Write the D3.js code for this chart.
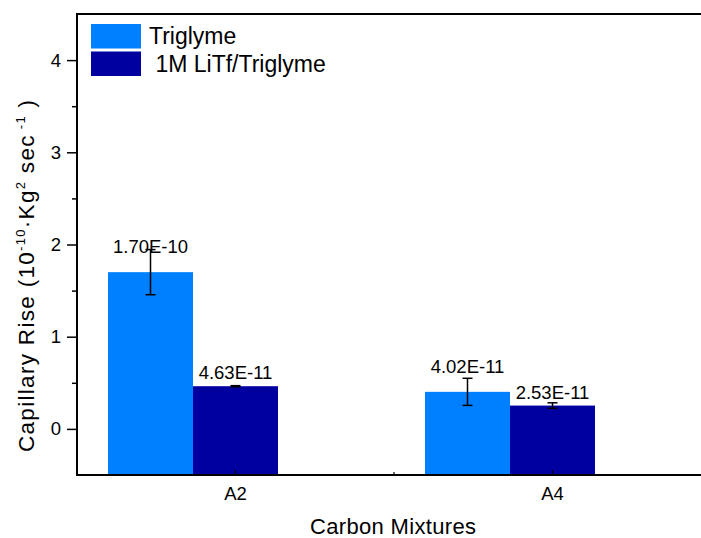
<!DOCTYPE html>
<html lang="en">
<head>
  <meta charset="UTF-8">
  <title>Capillary Rise</title>
  <script src="https://d3js.org/d3.v7.min.js"></script>
  <style>
    html, body { margin: 0; background: #fff; overflow: hidden; width: 701px; height: 538px; }
    svg { display: block; }
    text { font-family: "Liberation Sans", Arial, sans-serif; fill: #000; }
  </style>
</head>
<body>
  <script>
    // Data (values in units of 1e-10)
    var categories = ["A2", "A4"];
    var seriesNames = ["Triglyme", " 1M LiTf/Triglyme"];
    var triglyme = [1.70, 0.402];
    var triglymeErr = [0.245, 0.147];
    var litf = [0.463, 0.253];
    var litfErr = [0.006, 0.03];
    var yTicks = [0, 1, 2, 3, 4];

    var colors = ["#0080ff", "#0000a0"];
    // shift: bar offset in bar widths from the category centre
    var series = [
      { name: seriesNames[0], values: triglyme, errs: triglymeErr, color: colors[0], shift: -1, labelGap: 19 },
      { name: seriesNames[1], values: litf, errs: litfErr, color: colors[1], shift: 0, labelGap: 7 }
    ];

    // the plot runs past the right edge of the window, like the original
    var w = 780, h = 538;
    var mLeft = 77, mTop = 14, mBottom = 475, mRight = 711;

    var svg = d3.select("body").append("svg")
      .attr("width", w)
      .attr("height", h);

    var x = d3.scaleBand()
      .domain(categories)
      .range([mLeft, mRight])
      .padding(0);

    var y = d3.scaleLinear()
      .domain([-0.5, 4.5])
      .range([mBottom, mTop]);

    var barW = 85;
    function centre(i, s) {
      return x(categories[i]) + x.bandwidth() / 2 + s.shift * barW;
    }

    // bars
    series.forEach(function(s) {
      svg.append("g").selectAll("rect")
        .data(s.values)
        .enter()
        .append("rect")
        .attr("x", function(d, i) { return centre(i, s) - barW / 2; })
        .attr("y", function(d) { return y(d); })
        .attr("width", barW)
        .attr("height", function(d) { return mBottom - y(d); })
        .attr("fill", s.color);
    });

    // error bars + value labels
    series.forEach(function(s) {
      s.values.forEach(function(v, i) {
        var cx = centre(i, s);
        var e = s.errs[i];
        var eg = svg.append("g")
          .attr("stroke", "#000")
          .attr("stroke-width", 1.5);
        eg.append("line")
          .attr("x1", cx).attr("x2", cx)
          .attr("y1", y(v + e)).attr("y2", y(v - e));
        [v + e, v - e].forEach(function(t) {
          eg.append("line")
            .attr("x1", cx - 5).attr("x2", cx + 5)
            .attr("y1", y(t)).attr("y2", y(t));
        });
        svg.append("text")
          .attr("x", cx)
          .attr("y", y(v) - s.labelGap)
          .attr("text-anchor", "middle")
          .style("font-size", "18.5px")
          .text((v * 1e-10).toExponential(2).toUpperCase());
      });
    });

    // y axis
    var yg = svg.append("g")
      .attr("transform", "translate(" + mLeft + ",0)")
      .call(d3.axisLeft(y).tickValues(yTicks).tickSize(10).tickPadding(6).tickFormat(d3.format("d")));
    yg.select(".domain").remove();
    yg.selectAll(".tick line").attr("stroke-width", 1.5);
    yg.selectAll(".tick text").attr("font-family", null).style("font-size", "18.5px");

    var ymg = svg.append("g")
      .attr("transform", "translate(" + mLeft + ",0)")
      .call(d3.axisLeft(y).tickValues([0.5, 1.5, 2.5, 3.5]).tickSize(5).tickFormat(""));
    ymg.select(".domain").remove();
    ymg.selectAll("line").attr("stroke-width", 1.5);

    // x axis
    var xg = svg.append("g")
      .attr("transform", "translate(0," + mBottom + ")")
      .call(d3.axisBottom(x).tickSize(0).tickPadding(12));
    xg.select(".domain").remove();
    xg.selectAll(".tick text").attr("font-family", null).style("font-size", "18.5px");

    // inward ticks at categories and a minor one between them
    var xt = categories.map(function(c) { return x(c) + x.bandwidth() / 2; }).concat([x(categories[1])]);
    svg.append("g").selectAll("line")
      .data(xt)
      .enter()
      .append("line")
      .attr("x1", function(d) { return d; })
      .attr("x2", function(d) { return d; })
      .attr("y1", mBottom)
      .attr("y2", function(d, i) { return i < 2 ? mBottom - 5 : mBottom - 3; })
      .attr("stroke", "#000")
      .attr("stroke-width", 1.2);

    // frame: top, left, bottom
    svg.append("path")
      .attr("d", "M" + (w - 10) + "," + mTop + "H" + mLeft + "V" + mBottom + "H" + (w - 10))
      .attr("fill", "none")
      .attr("stroke", "#000")
      .attr("stroke-width", 2);

    // axis titles
    var yt = svg.append("text")
      .attr("transform", "translate(34,276) rotate(-90)")
      .attr("text-anchor", "middle")
      .attr("xml:space", "preserve")
      .attr("textLength", 352)
      .attr("lengthAdjust", "spacing")
      .style("font-size", "22.5px");
    yt.append("tspan").text("Capillary Rise (10");
    yt.append("tspan").attr("dy", -9).style("font-size", "13px").text("-10");
    yt.append("tspan").attr("dy", 9).text("\u00b7Kg");
    yt.append("tspan").attr("dy", -9).style("font-size", "13px").text("2");
    yt.append("tspan").attr("dy", 9).text(" sec");
    yt.append("tspan").attr("dy", -9).style("font-size", "13px").text(" -1");
    yt.append("tspan").attr("dy", 9).text(" )");

    svg.append("text")
      .attr("x", 393)
      .attr("y", 534)
      .attr("text-anchor", "middle")
      .attr("textLength", 166)
      .attr("lengthAdjust", "spacing")
      .style("font-size", "22px")
      .text("Carbon Mixtures");

    // legend
    series.forEach(function(s, i) {
      svg.append("rect")
        .attr("x", 91).attr("y", 24 + i * 27.5)
        .attr("width", 50).attr("height", 24.5)
        .attr("fill", s.color);
      svg.append("text")
        .attr("x", 149).attr("y", 44 + i * 27.5)
        .attr("xml:space", "preserve")
        .style("font-size", "23px")
        .text(s.name);
    });
  </script>
</body>
</html>
